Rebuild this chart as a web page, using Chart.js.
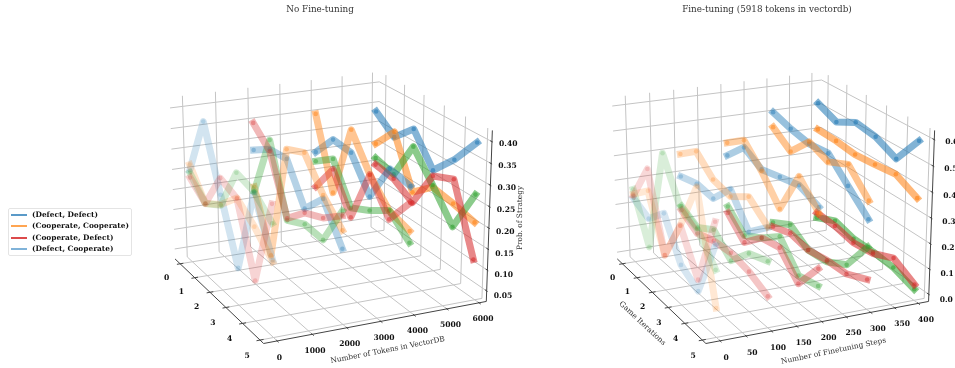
<!DOCTYPE html>
<html>
<head>
<meta charset="utf-8">
<script src="https://cdn.jsdelivr.net/npm/chart.js@4"></script>
<style>
html,body{margin:0;padding:0;background:#fff;width:955px;height:368px;overflow:hidden}
#c{position:absolute;left:0;top:0;filter:blur(0.35px)}
#lg{position:absolute;left:8px;top:208px;width:122px;height:46px;border:1px solid #e4e4e4;border-radius:2px;font:bold 7.4px "DejaVu Serif";color:#111;filter:blur(0.3px)}
#lg div{position:absolute;left:23px;white-space:nowrap}
#lg i{position:absolute;left:-21px;top:4px;width:16px;height:2px}
</style>
</head>
<body>
<canvas id="c" width="955" height="368"></canvas>
<div id="lg">
<div style="top:1px"><i style="background:#5a9ac8"></i>(Defect, Defect)</div>
<div style="top:12px"><i style="background:#ffa552"></i>(Cooperate, Cooperate)</div>
<div style="top:24px"><i style="background:#dc4a4b"></i>(Cooperate, Defect)</div>
<div style="top:35px"><i style="background:#80b3d9"></i>(Defect, Cooperate)</div>
</div>
<script>
const iterations = [0, 1, 2, 3, 4, 5];

// no fine-tuning, one row per vectordb size
const tokenSizes = [0, 1973, 3945, 5918];
const tokensDD = [
    [0.254, 0.399, 0.255, 0.114, 0.320, 0.202],
    [0.282, 0.312, 0.317, 0.229, 0.283, 0.201],
    [0.255, 0.314, 0.310, 0.234, 0.329, 0.319],
    [0.337, 0.299, 0.346, 0.274, 0.328, 0.396]
];
const tokensCC = [
    [0.268, 0.203, 0.232, 0.278, 0.244, 0.198],
    [0.190, 0.049, 0.340, 0.360, 0.292, 0.243],
    [0.351, 0.182, 0.365, 0.286, 0.231, 0.216],
    [0.255, 0.312, 0.190, 0.233, 0.224, 0.211]
];
const tokensDC = [
    [0.248, 0.203, 0.230, 0.336, 0.324, 0.284],
    [0.178, 0.334, 0.169, 0.192, 0.188, 0.287],
    [0.232, 0.266, 0.175, 0.200, 0.232, 0.189],
    [0.218, 0.205, 0.303, 0.238, 0.168, 0.276]
];
const tokensCD = [
    [0.236, 0.203, 0.294, 0.277, 0.120, 0.327],
    [0.349, 0.307, 0.174, 0.219, 0.239, 0.276],
    [0.167, 0.240, 0.152, 0.286, 0.211, 0.281],
    [0.201, 0.194, 0.164, 0.260, 0.282, 0.123]
];

// fine-tuning, one row per number of steps
const stepCounts = [0, 100, 200, 300, 400];
const stepsDD = [
    [0.237, 0.205, 0.279, 0.131, 0.088, 0.319],
    [0.297, 0.317, 0.308, 0.394, 0.283, 0.354],
    [0.357, 0.436, 0.395, 0.414, 0.431, 0.400],
    [0.510, 0.486, 0.470, 0.479, 0.400, 0.323],
    [0.523, 0.488, 0.530, 0.517, 0.477, 0.592]
];
const stepsCC = [
    [0.253, 0.317, 0.113, 0.284, 0.483, 0.084],
    [0.390, 0.447, 0.383, 0.367, 0.417, 0.357],
    [0.409, 0.465, 0.388, 0.289, 0.465, 0.376],
    [0.448, 0.393, 0.478, 0.445, 0.483, 0.394],
    [0.413, 0.410, 0.400, 0.407, 0.417, 0.374]
];
const stepsDC = [
    [0.273, 0.090, 0.513, 0.359, 0.325, 0.228],
    [0.174, 0.138, 0.183, 0.115, 0.200, 0.227],
    [0.142, 0.073, 0.118, 0.179, 0.080, 0.098],
    [0.043, 0.087, 0.036, 0.044, 0.089, 0.216],
    [0.034, 0.073, 0.051, 0.052, 0.045, 0.016]
];
const stepsCD = [
    [0.247, 0.404, 0.113, 0.284, 0.132, 0.406],
    [0.157, 0.113, 0.138, 0.146, 0.129, 0.093],
    [0.115, 0.044, 0.118, 0.134, 0.048, 0.165],
    [0.025, 0.051, 0.036, 0.050, 0.053, 0.089],
    [0.055, 0.051, 0.034, 0.045, 0.083, 0.035]
];

const tokenTicks = [0, 1000, 2000, 3000, 4000, 5000, 6000];
const stepTicks = [0, 50, 100, 150, 200, 250, 300, 350, 400];
const iterTicks = [0, 1, 2, 3, 4, 5];
const tokenProbTicks = [0.05, 0.10, 0.15, 0.20, 0.25, 0.30, 0.35, 0.40];
const stepProbTicks = [0.0, 0.1, 0.2, 0.3, 0.4, 0.5, 0.6];

const seriesColors = ['31,119,180', '255,127,14', '44,160,44', '214,39,40'];

// chart.js has no 3d, so the view is projected by hand onto a pixel-sized scatter
const cam = {az: -115 * Math.PI / 180, el: 19.5 * Math.PI / 180, d: 7, f: 240.2, cx: 324.4, cy: 198.2, zAspect: 0.75};

function project(X, Y, Z, shift) {
    const {az, el, d, f, cx, cy} = cam;
    const ex = Math.cos(el) * Math.cos(az), ey = Math.cos(el) * Math.sin(az), ez = Math.sin(el);
    const rx = -Math.sin(az), ry = Math.cos(az);
    const ux = -Math.sin(el) * Math.cos(az), uy = -Math.sin(el) * Math.sin(az), uz = Math.cos(el);
    const s = d / (d - (X * ex + Y * ey + Z * ez));
    return {x: cx + shift + f * s * (X * rx + Y * ry), y: cy - f * s * (X * ux + Y * uy + Z * uz)};
}

function viewOf(lim) {
    return (x, y, z) => project(
        (x - lim.x[0]) / (lim.x[1] - lim.x[0]) - 0.5,
        0.5 - (y - lim.y[0]) / (lim.y[1] - lim.y[0]),
        ((z - lim.z[0]) / (lim.z[1] - lim.z[0]) - 0.5) * cam.zAspect,
        lim.shift
    );
}

const datasets = [];
const texts = [];

function segment(a, b, color) {
    datasets.push({data: [a, b], showLine: true, borderColor: color, borderWidth: 1, pointRadius: 0});
}

function drawFrame(lim, xTicks, zTicks, decimals) {
    const P = viewOf(lim);
    const [x0, x1] = lim.x, [y0, y1] = lim.y, [z0, z1] = lim.z;
    const grid = '#c4c4c4', dark = '#444';
    for (const t of xTicks) {
        segment(P(t, y0, z0), P(t, y1, z0), grid);
        segment(P(t, y0, z0), P(t, y0, z1), grid);
        segment(P(t, y1 - 0.05, z0), P(t, y1 + 0.08, z0), dark);
        const q = P(t, y1, z0);
        texts.push({s: String(t), x: q.x + 4, y: q.y + 15.5, align: 'center', bold: true});
    }
    for (const t of iterTicks) {
        segment(P(x0, t, z0), P(x1, t, z0), grid);
        segment(P(x1, t, z0), P(x1, t, z1), grid);
        const dx = (x1 - x0) * 0.015;
        segment(P(x0 - dx, t, z0), P(x0 + dx, t, z0), dark);
        const q = P(x0, t, z0);
        texts.push({s: String(t), x: q.x - 11, y: q.y + 14.5, align: 'center', bold: true});
    }
    for (const t of zTicks) {
        segment(P(x0, y0, t), P(x1, y0, t), grid);
        segment(P(x1, y0, t), P(x1, y1, t), grid);
        segment(P(x1, y1 - 0.08, t), P(x1, y1 + 0.04, t), dark);
        const q = P(x1, y1, t);
        texts.push({s: t.toFixed(decimals), x: q.x + 7, y: q.y + 5, align: 'left', bold: true});
    }
    segment(P(x0, y0, z0), P(x0, y1, z0), dark);
    segment(P(x0, y1, z0), P(x1, y1, z0), dark);
    segment(P(x1, y1, z0), P(x1, y1, z1), dark);
}

function drawSeries(lim, xs, tables, alphas) {
    const P = viewOf(lim);
    // far rows first, same as the depth sorting of a 3d plot
    for (let g = xs.length - 1; g >= 0; g--) {
        tables.forEach((table, s) => {
            const color = `rgba(${seriesColors[s]},${alphas[g]})`;
            datasets.push({
                data: iterations.map((it, j) => P(xs[g], it, table[g][j])),
                showLine: true,
                borderColor: color,
                borderWidth: 7,
                borderCapStyle: 'square',
                borderJoinStyle: 'round',
                pointRadius: 2.3,
                pointBorderWidth: 0,
                pointBackgroundColor: color
            });
        });
    }
}

const limTokens = {x: [-380, 6230], y: [-0.36, 5.2], z: [0.0245, 0.4255], shift: 0};
const limSteps = {x: [-27, 422], y: [-0.36, 5.2], z: [-0.0285, 0.6345], shift: 446};

drawFrame(limTokens, tokenTicks, tokenProbTicks, 2);
drawFrame(limSteps, stepTicks, stepProbTicks, 1);
drawSeries(limTokens, tokenSizes, [tokensDD, tokensCC, tokensDC, tokensCD], [0.2, 0.33, 0.45, 0.55]);
drawSeries(limSteps, stepCounts, [stepsDD, stepsCC, stepsDC, stepsCD], [0.18, 0.27, 0.37, 0.46, 0.56]);

texts.push({s: 'No Fine-tuning', x: 320, y: 12, align: 'center', size: 8.8});
texts.push({s: 'Fine-tuning (5918 tokens in vectordb)', x: 767, y: 12, align: 'center', size: 8.8});
texts.push({s: 'Number of Tokens in VectorDB', x: 388, y: 352, align: 'center', rot: -11, size: 7.4});
texts.push({s: 'Number of Finetuning Steps', x: 834, y: 353, align: 'center', rot: -11.7, size: 7.4});
texts.push({s: 'Game Iterations', x: 641, y: 325, align: 'center', rot: 43, size: 7.4});
texts.push({s: 'Prob. of Strategy', x: 522, y: 218, align: 'center', rot: -90, size: 7.4});

const textPlugin = {
    id: 'texts',
    afterDraw(chart) {
        const ctx = chart.ctx;
        for (const t of texts) {
            ctx.save();
            ctx.fillStyle = t.bold ? '#111' : '#333';
            ctx.font = (t.bold ? 'bold ' : '') + (t.size || 7.6) + 'px "DejaVu Serif"';
            ctx.textAlign = t.align;
            ctx.translate(t.x, t.y);
            ctx.rotate((t.rot || 0) * Math.PI / 180);
            ctx.fillText(t.s, 0, 0);
            ctx.restore();
        }
    }
};

new Chart(document.getElementById('c'), {
    type: 'scatter',
    data: {datasets: datasets.reverse()}, // chart.js paints the first dataset last
    options: {
        responsive: false,
        animation: false,
        layout: {padding: 0},
        plugins: {legend: {display: false}, tooltip: {enabled: false}},
        scales: {
            x: {type: 'linear', display: false, min: 0, max: 955},
            y: {type: 'linear', display: false, min: 0, max: 368, reverse: true}
        }
    },
    plugins: [textPlugin]
});
</script>
</body>
</html>
